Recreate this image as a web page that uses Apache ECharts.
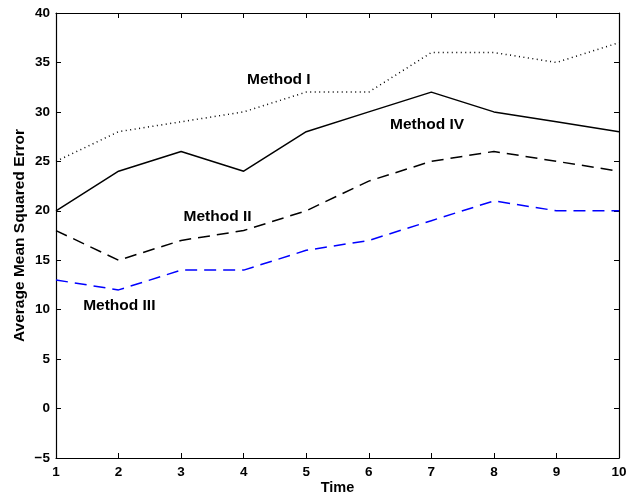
<!DOCTYPE html>
<html>
<head>
<meta charset="utf-8">
<script src="https://cdn.jsdelivr.net/npm/echarts@6/dist/echarts.min.js"></script>
<style>
html,body{margin:0;padding:0;background:#fff;}
#chart{width:627px;height:499px;}
</style>
</head>
<body>
<div id="chart"></div>
<script>
const timeSteps = [1, 2, 3, 4, 5, 6, 7, 8, 9, 10];
const methodI   = [25, 28, 29, 30, 32, 32, 36, 36, 35, 37];
const methodIV  = [20, 24, 26, 24, 28, 30, 32, 30, 29, 28];
const methodII  = [18, 15, 17, 18, 20, 23, 25, 26, 25, 24];
const methodIII = [13, 12, 14, 14, 16, 17, 19, 21, 20, 20];
const labelNames = ['Method I', 'Method IV', 'Method II', 'Method III'];
const labelX = [4.57, 6.94, 3.59, 2.02];
const labelY = [33.2, 28.7, 19.3, 10.3];

const FONT = '"Liberation Sans", Arial, Helvetica, sans-serif';
const pairs = arr => timeSteps.map((t, i) => [t, arr[i]]);

const chart = echarts.init(document.getElementById('chart'), null, {renderer: 'canvas'});

const axisCommon = {
  axisLine: {show: true, onZero: false, lineStyle: {color: '#000', width: 1.2}},
  axisTick: {show: true, inside: true, length: 5, lineStyle: {color: '#000', width: 1}},
  splitLine: {show: false},
};

chart.setOption({
  animation: false,
  backgroundColor: '#fff',
  grid: {left: 56, right: 8, top: 13, bottom: 41, containLabel: false, outerBoundsMode: 'none'},
  xAxis: [
    Object.assign({
      type: 'value', min: 1, max: 10, interval: 1, position: 'bottom',
      name: 'Time', nameLocation: 'middle', nameGap: 22, nameMoveOverlap: false,
      nameTextStyle: {fontFamily: FONT, fontWeight: 'bold', fontSize: 14.5, color: '#000'},
      axisLabel: {fontFamily: FONT, fontWeight: 'bold', fontSize: 13.5, color: '#000', margin: 7}
    }, axisCommon),
    Object.assign({
      type: 'value', min: 1, max: 10, interval: 1, position: 'top',
      axisLabel: {show: false}
    }, axisCommon)
  ],
  yAxis: [
    Object.assign({
      type: 'value', min: -5, max: 40, interval: 5, position: 'left',
      name: 'Average Mean Squared Error', nameLocation: 'middle', nameGap: 28, nameMoveOverlap: false,
      nameTextStyle: {fontFamily: FONT, fontWeight: 'bold', fontSize: 15.5, color: '#000'},
      axisLabel: {fontFamily: FONT, fontWeight: 'bold', fontSize: 13.5, color: '#000', margin: 6,
        formatter: v => v < 0 ? '\u2212' + Math.abs(v) : String(v)}
    }, axisCommon),
    Object.assign({
      type: 'value', min: -5, max: 40, interval: 5, position: 'right',
      axisLabel: {show: false}
    }, axisCommon)
  ],
  series: [
    {name: 'Method I', type: 'line', data: pairs(methodI), symbol: 'none',
     lineStyle: {color: '#000', width: 1.5, type: [1, 3.5]}},
    {name: 'Method IV', type: 'line', data: pairs(methodIV), symbol: 'none',
     lineStyle: {color: '#000', width: 1.5, type: 'solid'}},
    {name: 'Method II', type: 'line', data: pairs(methodII), symbol: 'none',
     lineStyle: {color: '#000', width: 1.5, type: [12, 7]}},
    {name: 'Method III', type: 'line', data: pairs(methodIII), symbol: 'none',
     lineStyle: {color: '#0000ff', width: 1.5, type: [12, 7]}},
    {name: 'labels', type: 'scatter', symbolSize: 1, silent: true,
     itemStyle: {opacity: 0},
     data: labelNames.map((n, i) => ({value: [labelX[i], labelY[i]], name: n})),
     label: {show: true, position: [0, 0], align: 'center', verticalAlign: 'middle',
       formatter: p => p.name, opacity: 1,
       fontFamily: FONT, fontWeight: 'bold', fontSize: 15.5, color: '#000', textBorderWidth: 0}}
  ]
});
</script>
</body>
</html>
